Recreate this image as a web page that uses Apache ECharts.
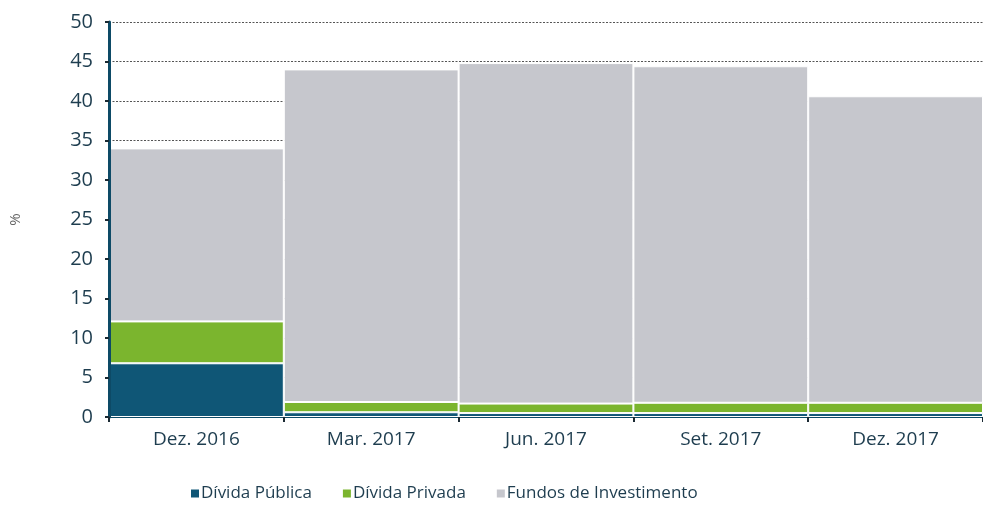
<!DOCTYPE html>
<html>
<head>
<meta charset="utf-8">
<script src="https://cdn.jsdelivr.net/npm/echarts@6/dist/echarts.min.js"></script>
<style>html,body{margin:0;padding:0;background:#fff}#c{width:983px;height:508px}</style>
</head>
<body>
<div id="c"></div>
<script>
var categories = ['Dez. 2016', 'Mar. 2017', 'Jun. 2017', 'Set. 2017', 'Dez. 2017'];
var dividaPublica = [6.8, 0.6, 0.5, 0.5, 0.5];
var dividaPrivada = [5.3, 1.3, 1.2, 1.3, 1.3];
var fundos = [21.9, 42.1, 43.1, 42.6, 38.8];
var seriesNames = ['Dívida Pública', 'Dívida Privada', 'Fundos de Investimento'];
var yTicks = { min: 0, max: 50, interval: 5 };

var chart = echarts.init(document.getElementById('c'), null, { renderer: 'canvas' });
var txt = '#1e3d4f';
var font = 'Open Sans';
function s(name, data, color) {
  return {
    name: name, type: 'bar', stack: 'a', data: data,
    barWidth: '100%',
    itemStyle: { color: color, borderColor: '#ffffff', borderWidth: 1 },
    emphasis: { disabled: true }
  };
}
chart.setOption({
  animation: false,
  grid: { left: 108, right: -5, top: 22, bottom: 91 },
  legend: {
    bottom: 1, left: 184,
    itemWidth: 10, itemHeight: 10, itemGap: 29,
    icon: 'rect',
    textStyle: { fontFamily: font, fontSize: 17, color: txt, padding: [0, 0, 0, -4] },
    data: seriesNames
  },
  xAxis: {
    type: 'category', data: categories, z: 5,
    axisLine: { show: true, lineStyle: { color: '#0d4a66', width: 1 } },
    axisTick: { show: true, length: 5, lineStyle: { color: '#1a2a33', width: 2 } },
    axisLabel: { fontFamily: font, fontSize: 19, color: txt, margin: 13 }
  },
  yAxis: [{
    type: 'value', min: yTicks.min, max: yTicks.max, interval: yTicks.interval, z: 0,
    name: '%', nameLocation: 'middle', nameGap: 86, nameRotate: 90,
    nameTextStyle: { fontFamily: font, fontSize: 15, color: '#666' },
    axisLine: { show: false },
    axisTick: { show: false },
    axisLabel: { fontFamily: font, fontSize: 20, color: txt, margin: 16 },
    splitLine: { show: true, lineStyle: { color: '#555', type: [2, 1.5], width: 1 } }
  }, {
    type: 'value', position: 'left', min: yTicks.min, max: yTicks.max, interval: yTicks.interval, z: 5,
    axisLine: { show: true, lineStyle: { color: '#0d4a66', width: 3 } },
    axisTick: { show: true, length: 4, inside: false, lineStyle: { color: '#1a2a33', width: 2 } },
    axisLabel: { show: false },
    splitLine: { show: false }
  }],
  series: [
    s(seriesNames[0], dividaPublica, '#0f5676'),
    s(seriesNames[1], dividaPrivada, '#7bb52e'),
    s(seriesNames[2], fundos, '#c6c7cd')
  ]
});
</script>
</body>
</html>
